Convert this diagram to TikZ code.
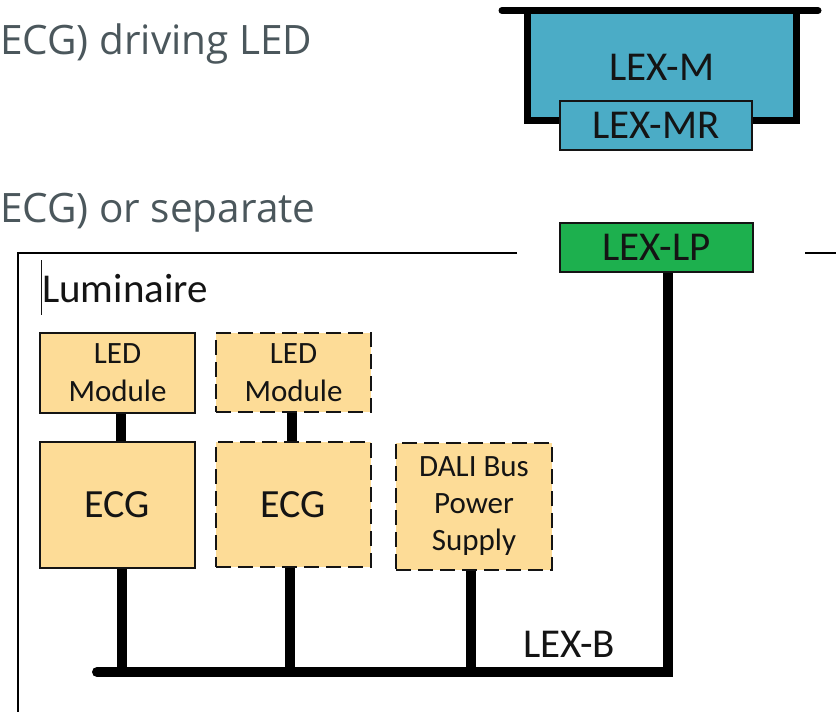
\documentclass[tikz,border=0pt]{standalone}
\usepackage{fontspec}
\setmainfont{Carlito}
\newfontfamily\titlefont{Open Sans}
\usetikzlibrary{backgrounds}
\definecolor{boxorange}{HTML}{FDDC97}
\definecolor{lexblue}{HTML}{4BACC6}
\definecolor{lexgreen}{HTML}{1DB04E}
\definecolor{titlegrey}{HTML}{4B575C}
\definecolor{ink}{HTML}{141414}
\newcommand\lexfont{\fontsize{41}{49}\selectfont}
\newcommand\modfont{\fontsize{31}{38}\selectfont}
\newcommand\ecgfont{\fontsize{40}{48}\selectfont}
\begin{document}
\begin{tikzpicture}[x=1pt,y=-1pt,
  modbox/.style={draw=ink, line width=2.5pt, fill=boxorange, inner sep=0pt, align=center, text=ink, font=\modfont},
  dashedbox/.style={modbox, dash pattern=on 15pt off 7pt},
  lexbox/.style={draw=ink, line width=2pt, inner sep=0pt, text=ink, font=\lexfont, minimum width=192pt, minimum height=49pt},
  wire/.style={line width=10pt, draw=black},
  framepen/.style={line width=7pt, draw=black},
  thinpen/.style={line width=2pt, draw=black},
  label/.style={inner sep=0pt, text=ink, font=\lexfont},
  titletext/.style={anchor=base west, inner sep=0pt, text=titlegrey, font=\titlefont\fontsize{40.5}{48}\selectfont}
]
\useasboundingbox (0,0) rectangle (836,712);

% titles
\node[titletext] (t1) at (0,54) {ECG) driving LED};
\node[titletext] (t2) at (0,222) {ECG) or separate};

% LEX-M frame
\fill[lexblue] (527,10.5) rectangle (796,120);
\draw[framepen, line cap=round] (502,10.5) -- (818,10.5);
\draw[framepen, line join=miter] (527,10.5) -- (527,120) -- (560,120);
\draw[framepen, line join=miter] (752,120) -- (796,120) -- (796,10.5);
\node[label] (lexm) at (662,67) {LEX-M};
\node[lexbox, fill=lexblue] (mr) at (656,125.5) {LEX-MR};

% luminaire outline
\draw[thinpen] (517,253) -- (18,253) -- (18,720);
\draw[thinpen] (805,253) -- (840,253);
\node[label, anchor=base west] (lum) at (42,302) {Luminaire};
\draw[line width=1pt, draw=ink] (41,260) -- (41,315);

% LEX-LP
\node[lexbox, fill=lexgreen, minimum width=193pt] (lp) at (656.5,247.5) {LEX-LP};

% modules
\node[modbox, minimum width=155pt, minimum height=80pt] (led1) at (117.5,373) {LED\\Module};
\node[dashedbox, minimum width=155pt, minimum height=79pt] (led2) at (293.5,372.5) {LED\\Module};
\node[modbox, font=\ecgfont, minimum width=155pt, minimum height=126pt] (ecg1) at (117.5,505) {ECG};
\node[dashedbox, font=\ecgfont, minimum width=155pt, minimum height=125pt] (ecg2) at (293.5,504.5) {ECG};
\node[dashedbox, minimum width=156pt, minimum height=127pt, font=\fontsize{31}{37}\selectfont] (dali) at (474,506.5) {DALI Bus\\Power\\Supply};

\node[label, anchor=base west] (lexb) at (523,657) {LEX-B};

% wires
\coordinate (busL) at (97,672);
\coordinate (l1b) at ([xshift=3pt]led1.south);
\coordinate (e1t) at ([xshift=3pt]ecg1.north);
\coordinate (l2b) at ([xshift=-2pt]led2.south);
\coordinate (e2t) at ([xshift=-2pt]ecg2.north);
\coordinate (e1b) at ([xshift=4pt]ecg1.south);
\coordinate (e2b) at ([xshift=-3.5pt]ecg2.south);
\coordinate (db) at ([xshift=-3pt]dali.south);
\coordinate (lpb) at ([xshift=11pt]lp.south);
\coordinate (busR) at (lpb |- busL);
\begin{pgfonlayer}{background}
\draw[wire] (l1b) -- (e1t);
\draw[wire] (l2b) -- (e2t);
\draw[wire] (e1b) -- (e1b |- busL);
\draw[wire] (e2b) -- (e2b |- busL);
\draw[wire] (db) -- (db |- busL);
\draw[wire, line cap=round, line join=miter] (busL) -- (busR) -- (lpb);
\end{pgfonlayer}
\end{tikzpicture}
\end{document}
